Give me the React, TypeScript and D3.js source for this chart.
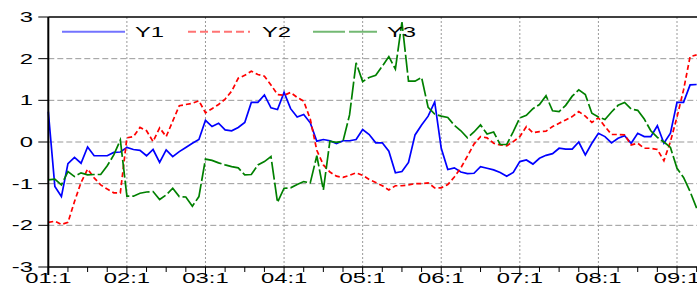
import React, { useEffect, useRef } from 'react';
import * as d3 from 'd3';

const yearLabels = ['01:1', '02:1', '03:1', '04:1', '05:1', '06:1', '07:1', '08:1', '09:1'];
const yTicks = [-3, -2, -1, 0, 1, 2, 3];
const seriesNames = ['Y1', 'Y2', 'Y3'];

const y1 = [
  0.73, -1.07, -1.31, -0.52, -0.37, -0.51, -0.12, -0.33, -0.33, -0.33, -0.25, -0.24,
  -0.13, -0.18, -0.2, -0.33, -0.18, -0.49, -0.19, -0.35, -0.23, -0.13, -0.03, 0.06,
  0.52, 0.37, 0.45, 0.29, 0.27, 0.35, 0.47, 0.95, 0.95, 1.13, 0.82, 0.78,
  1.19, 0.8, 0.6, 0.66, 0.46, 0.02, 0.06, 0.03, -0.04, 0.03, 0.03, 0.06,
  0.3, 0.18, -0.02, -0.02, -0.22, -0.74, -0.71, -0.49, 0.17, 0.41, 0.62, 0.96,
  -0.15, -0.66, -0.62, -0.72, -0.76, -0.75, -0.59, -0.63, -0.67, -0.73, -0.82, -0.73,
  -0.47, -0.43, -0.53, -0.39, -0.32, -0.28, -0.15, -0.17, -0.17, 0.0, -0.31, -0.03,
  0.21, 0.13, -0.02, 0.09, 0.15, -0.03, 0.21, 0.13, 0.13, 0.39, -0.03, 0.21,
  0.95, 0.95, 1.37, 1.38,
];

const y2 = [
  -1.93, -1.9, -1.98, -1.93, -1.43, -0.97, -0.65, -0.86, -1.03, -1.13, -1.22, -1.22,
  0.1, 0.13, 0.35, 0.27, 0.01, 0.34, 0.13, 0.5, 0.87, 0.9, 0.93, 0.99,
  0.7, 0.8, 0.9, 1.03, 1.22, 1.53, 1.6, 1.7, 1.62, 1.58, 1.37, 1.14,
  1.12, 1.19, 1.07, 0.98, 0.55, -0.2, -0.55, -0.72, -0.82, -0.85, -0.8, -0.74,
  -0.8, -0.9, -0.97, -1.05, -1.15, -1.05, -1.05, -1.03, -1.0, -1.0, -0.98, -1.1,
  -1.1, -1.02, -0.84, -0.62, -0.34, -0.05, 0.13, 0.1, -0.03, -0.07, -0.09, 0.01,
  0.13, 0.37, 0.22, 0.25, 0.26, 0.37, 0.45, 0.53, 0.61, 0.73, 0.62, 0.47,
  0.58, 0.37, 0.18, 0.18, 0.17, -0.07, -0.03, -0.15, -0.15, -0.18, -0.45, 0.01,
  0.6, 1.25, 2.05, 2.09,
];

const y3 = [
  -0.91, -0.89, -1.03, -0.71, -0.83, -0.74, -0.79, -0.78, -0.78, -0.57, -0.31, 0.05,
  -1.3, -1.3, -1.23, -1.2, -1.19, -1.38, -1.27, -1.11, -1.31, -1.32, -1.54, -1.31,
  -0.41, -0.44, -0.5, -0.55, -0.59, -0.62, -0.79, -0.78, -0.55, -0.47, -0.35, -1.45,
  -1.11, -1.1, -1.02, -0.95, -0.98, -0.33, -1.15, 0.02, -0.01, 0.02, 0.65, 1.9,
  1.45, 1.55, 1.6, 1.82, 2.05, 1.75, 2.88, 1.46, 1.46, 1.55, 0.83, 0.67,
  0.62, 0.59, 0.4, 0.27, 0.1, 0.24, 0.41, 0.19, 0.24, -0.06, -0.06, 0.25,
  0.58, 0.64, 0.8, 0.9, 1.11, 0.75, 0.73, 0.88, 1.1, 1.25, 1.14, 0.69,
  0.6, 0.54, 0.72, 0.88, 0.95, 0.79, 0.76, 0.55, 0.27, 0.11, 0.0, -0.13,
  -0.63, -0.85, -1.19, -1.59,
];

const colors = ['#0000ff', '#ff0000', '#008000'];
const dashes = ['none', '5,3', '18,3'];

export default function App() {
  const svgRef = useRef<SVGSVGElement | null>(null);

  useEffect(() => {
    if (!svgRef.current) return;
    const svg = d3.select(svgRef.current);
    svg.selectAll('*').remove();

    const width = 697;
    const height = 286;
    const left = 48.3;
    const top = 17;
    const bottom = 267;
    const font = '"Liberation Sans", Arial, sans-serif';
    const stretch = 1.7;

    // monthly points, one year = 12
    const x = d3.scaleLinear().domain([0, 96]).range([left, 677]);
    const y = d3.scaleLinear().domain([-3, 3]).range([bottom, top]);

    svg.append('rect').attr('width', width).attr('height', height).attr('fill', '#fff');

    // grid
    svg.append('g')
      .selectAll('line')
      .data(yTicks.filter(t => t > -3 && t < 3))
      .join('line')
      .attr('x1', left).attr('x2', width)
      .attr('y1', d => y(d)).attr('y2', d => y(d))
      .attr('stroke', '#999').attr('stroke-width', 1)
      .attr('stroke-dasharray', '6,3');

    svg.append('g')
      .selectAll('line')
      .data(yearLabels.slice(1).map((_, i) => (i + 1) * 12))
      .join('line')
      .attr('x1', d => x(d)).attr('x2', d => x(d))
      .attr('y1', top).attr('y2', bottom)
      .attr('stroke', '#999').attr('stroke-width', 1)
      .attr('stroke-dasharray', '2,2');

    // series
    const series = [y1, y2, y3];
    const line = d3.line<number>().x((_, i) => x(i)).y(d => y(d));
    const plot = svg.append('g');
    series.forEach((s, k) => {
      plot.append('path')
        .datum(s)
        .attr('d', line)
        .attr('fill', 'none')
        .attr('stroke', colors[k])
        .attr('stroke-width', 1.7)
        .attr('stroke-dasharray', dashes[k]);
    });

    // frame
    svg.append('line').attr('x1', left).attr('x2', width).attr('y1', top).attr('y2', top)
      .attr('stroke', '#000').attr('stroke-width', 1.5);
    svg.append('line').attr('x1', left).attr('x2', width).attr('y1', bottom).attr('y2', bottom)
      .attr('stroke', '#000').attr('stroke-width', 1.5);
    svg.append('line').attr('x1', left).attr('x2', left).attr('y1', top).attr('y2', bottom + 8)
      .attr('stroke', '#000').attr('stroke-width', 2);

    // y axis
    const ya = svg.append('g');
    ya.selectAll('line')
      .data(yTicks)
      .join('line')
      .attr('x1', left - 10).attr('x2', left)
      .attr('y1', d => y(d)).attr('y2', d => y(d))
      .attr('stroke', '#000').attr('stroke-width', 1);
    ya.selectAll('text')
      .data(yTicks)
      .join('text')
      .attr('transform', d => `translate(33,${y(d) + 5}) scale(${stretch},1)`)
      .attr('text-anchor', 'end')
      .attr('font-family', font)
      .attr('font-size', 14)
      .attr('fill', '#000')
      .text(d => String(d));

    // x axis
    const xa = svg.append('g');
    const quarters = d3.range(0, 100, 3);
    xa.selectAll('line')
      .data(quarters)
      .join('line')
      .attr('x1', d => x(d)).attr('x2', d => x(d))
      .attr('y1', bottom).attr('y2', d => bottom + (d % 12 === 0 ? 8 : 5))
      .attr('stroke', '#000').attr('stroke-width', 1);
    xa.selectAll('text')
      .data(yearLabels)
      .join('text')
      .attr('transform', (_, i) => `translate(${x(i * 12)},282.5) scale(${stretch},1)`)
      .attr('text-anchor', 'middle')
      .attr('font-family', font)
      .attr('font-size', 14)
      .attr('fill', '#000')
      .text(d => d);

    // legend
    const legendX = [[62, 125, 135], [188, 250, 262], [313, 377, 387]];
    const lg = svg.append('g');
    seriesNames.forEach((name, k) => {
      const [a, b, t] = legendX[k];
      lg.append('line')
        .attr('x1', a).attr('x2', b).attr('y1', 31.7).attr('y2', 31.7)
        .attr('stroke', colors[k]).attr('stroke-width', 2).attr('stroke-opacity', 0.55)
        .attr('stroke-dasharray', k === 0 ? 'none' : k === 1 ? '8,4' : '32,4');
      lg.append('text')
        .attr('transform', `translate(${t},37) scale(${stretch},1)`)
        .attr('font-family', font)
        .attr('font-size', 14)
        .attr('fill', '#000')
        .text(name);
    });
  }, []);

  return (
    <svg
      ref={svgRef}
      width={697}
      height={286}
      style={{ position: 'absolute', left: 0, top: 0, display: 'block' }}
    />
  );
}
